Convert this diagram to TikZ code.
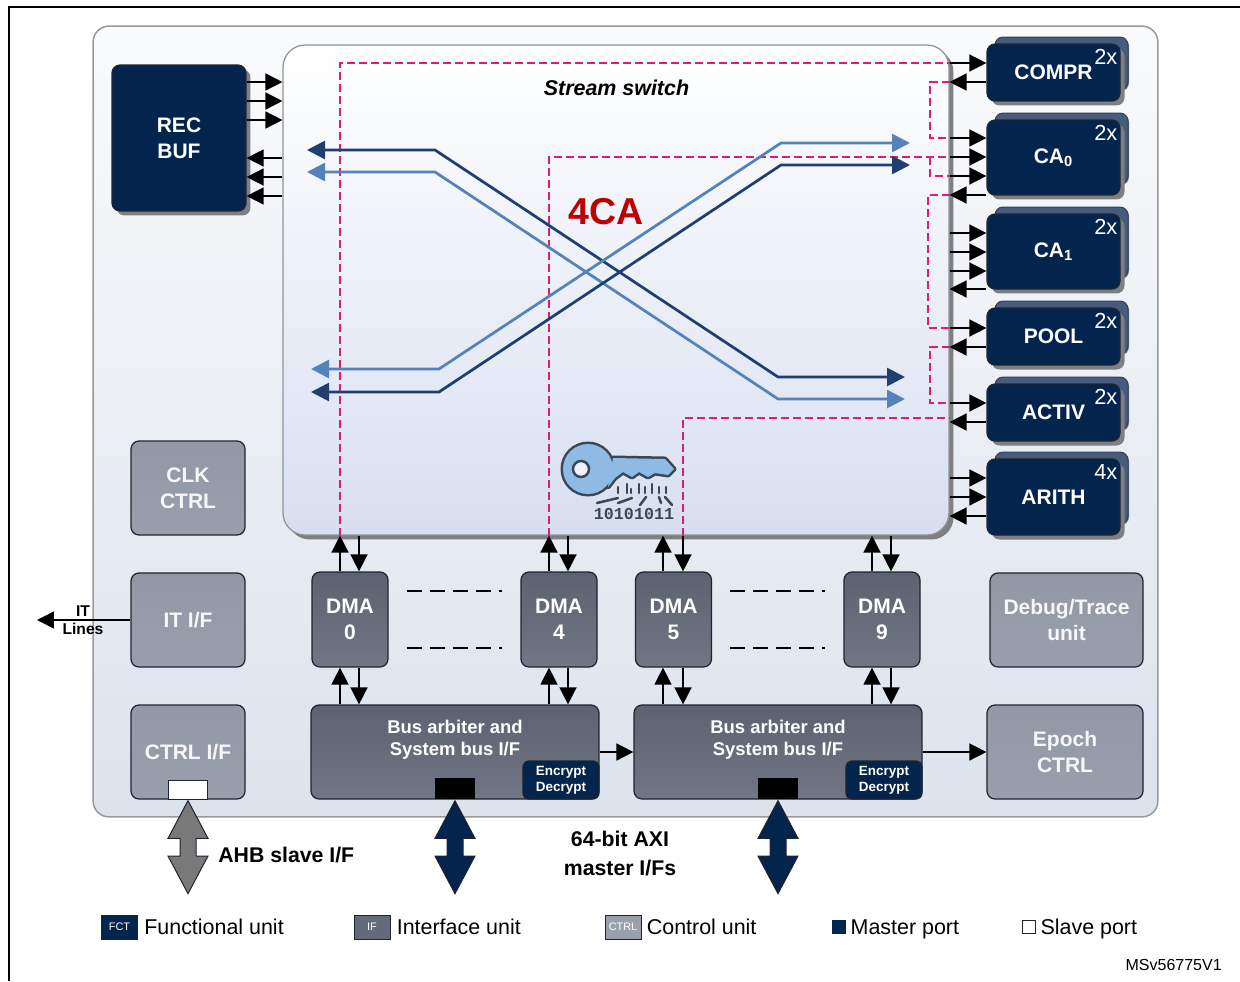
\documentclass[tikz,border=0pt]{standalone}
\usepackage{fontspec}
\setmainfont{Liberation Sans}
\newfontfamily\bitfont{Liberation Mono}
\usetikzlibrary{positioning,arrows.meta,shadows,shapes.arrows}

\definecolor{navy}{HTML}{03244D}
\definecolor{ifgray}{HTML}{656A7B}
\definecolor{ctrlgray}{HTML}{9A9FAE}
\definecolor{shadowgray}{HTML}{7D7F82}
\definecolor{backblue}{HTML}{475C7D}
\definecolor{edgedark}{HTML}{1E2430}
\definecolor{crossdark}{HTML}{1F3F70}
\definecolor{crosslight}{HTML}{5582B8}
\definecolor{pinkline}{HTML}{DD1C77}
\definecolor{keyblue}{HTML}{8DBBE6}
\definecolor{keyline}{HTML}{3B4757}
\definecolor{paneltop}{HTML}{F9FAFB}
\definecolor{panelbottom}{HTML}{DCE3ED}
\definecolor{switchbottom}{HTML}{D7DFF0}

\begin{document}
\begin{tikzpicture}[
        x=0.02cm, y=-0.02cm,
        unitbox/.style={rectangle, rounded corners=0.16cm, draw=edgedark, line width=0.025cm, inner sep=0pt, align=center, text=white, font=\fontsize{11.95}{14.8}\selectfont\bfseries},
        fctbox/.style={unitbox, fill=navy, drop shadow={shadow xshift=0.09cm, shadow yshift=-0.09cm, opacity=1, fill=shadowgray}},
        backbox/.style={rectangle, rounded corners=0.16cm, fill=backblue, draw=backblue!70!black, line width=0.02cm, minimum width=2.66cm, drop shadow={shadow xshift=0.02cm, shadow yshift=-0.02cm, opacity=1, fill=shadowgray}},
        ifbox/.style={unitbox, top color=ifgray!92!black, bottom color=ifgray!92!white},
        ctrlbox/.style={unitbox, top color=ctrlgray!95!black, bottom color=ctrlgray, text=white!92!ctrlgray},
        busbox/.style={ifbox, font=\fontsize{10.5}{12.5}\selectfont\bfseries, minimum width=5.76cm, minimum height=1.88cm},
        cryptbox/.style={unitbox, fill=navy, rounded corners=0.12cm, minimum width=1.52cm, minimum height=0.76cm, font=\fontsize{7.65}{9.1}\selectfont\bfseries},
        countlabel/.style={inner sep=0pt, text=white, font=\fontsize{12.4}{14}\selectfont},
        link/.style={-{Triangle[length=0.34cm, width=0.34cm]}, black, line width=0.03cm},
        crossarrow/.style={{Triangle[length=0.36cm, width=0.36cm]}-{Triangle[length=0.36cm, width=0.36cm]}, line width=0.055cm},
        lanepath/.style={pinkline, line width=0.05cm, dash pattern=on 0.16cm off 0.08cm},
        gapdash/.style={black, line width=0.03cm, dash pattern=on 0.3cm off 0.16cm},
        busarrow/.style={double arrow, shape border rotate=90, draw=edgedark, line width=0.02cm, inner sep=0.15cm, minimum height=1.86cm, double arrow head extend=0.24cm, double arrow tip angle=56},
        boldlabel/.style={inner sep=0pt, align=center, font=\fontsize{12.1}{16.5}\selectfont\bfseries},
        keysquare/.style={rectangle, draw=edgedark, line width=0.02cm, inner sep=0pt, minimum width=0.72cm, minimum height=0.48cm, text=white, font=\fontsize{6.2}{7}\selectfont},
        legendtext/.style={inner sep=0pt, text height=0.36cm, text depth=0.08cm, font=\fontsize{12.2}{14}\selectfont},
        keyedge/.style={keyline, line width=0.05cm, line cap=round}
    ]
    \useasboundingbox (0,0) rectangle (1240,981);

    % Page frame
    \draw[black, line width=0.05cm] (9,981) -- (9,7) -- (1240,7);

    % Outer panel and stream switch
    \node[rectangle, rounded corners=0.32cm, draw=gray!80, line width=0.03cm, top color=paneltop, bottom color=panelbottom, minimum width=21.3cm, minimum height=15.82cm] (panel) at (625.5,421.5) {};
    \node[rectangle, rounded corners=0.44cm, draw=gray!85, line width=0.025cm, top color=white, bottom color=switchbottom, minimum width=13.32cm, minimum height=9.8cm, drop shadow={shadow xshift=0.09cm, shadow yshift=-0.09cm, opacity=1, fill=shadowgray}] (switch) at (616,290) {};
    \node[inner sep=0pt, font=\fontsize{12.2}{14}\selectfont\bfseries\itshape] (switchname) at (616.5,88) {Stream switch};
    \node[inner sep=0pt, text=red!75!black, font=\fontsize{21.3}{24}\selectfont\bfseries] (fourca) at (606,212) {4CA};

    % Functional units
    \node[fctbox, minimum width=2.68cm, minimum height=2.92cm] (recbuf) at (179,138) {REC\\BUF};
    \foreach \nm/\lab/\yc/\hgt/\cnt in {compr/COMPR/72.5/1.14cm/2x, ca0/{CA\textsubscript{0}}/157.5/1.5cm/2x, ca1/{CA\textsubscript{1}}/251.5/1.5cm/2x, pool/POOL/336.5/1.14cm/2x, activ/ACTIV/412.5/1.14cm/2x, arith/ARITH/497/1.52cm/4x} {
        \node[backbox, minimum height=\hgt-0.08cm] (\nm-back) at (1061.5,\yc-9) {};
        \node[fctbox, minimum width=2.66cm, minimum height=\hgt] (\nm) at (1053.5,\yc) {\lab};
        \node[countlabel, anchor=north east] (\nm-count) at ([xshift=-0.06cm, yshift=-0.11cm]\nm.north east) {\cnt};
    }

    % DMA channels and bus interfaces
    \foreach \nm/\lab/\xc in {dma0/0/350, dma4/4/559, dma5/5/673.5, dma9/9/882} {
        \node[ifbox, minimum width=1.52cm, minimum height=1.9cm] (\nm) at (\xc,619.5) {DMA\\\lab};
    }
    \node[busbox, text depth=0.58cm] (busa) at (455,752) {Bus arbiter and\\System bus I/F};
    \node[busbox, text depth=0.58cm] (busb) at (778,752) {Bus arbiter and\\System bus I/F};
    \node[cryptbox, anchor=south east] (crypta) at (busa.south east) {Encrypt\\Decrypt};
    \node[cryptbox, anchor=south east] (cryptb) at (busb.south east) {Encrypt\\Decrypt};
    \node[rectangle, fill=black, inner sep=0pt, minimum width=0.8cm, minimum height=0.42cm, anchor=south] (porta) at (busa.south) {};
    \node[rectangle, fill=black, inner sep=0pt, minimum width=0.8cm, minimum height=0.42cm, anchor=south] (portb) at (busb.south) {};

    % Control and interface units
    \node[ctrlbox, minimum width=2.28cm, minimum height=1.88cm] (clkctrl) at (188,488) {CLK\\CTRL};
    \node[ctrlbox, minimum width=2.28cm, minimum height=1.88cm] (itif) at (188,620) {IT I/F};
    \node[ctrlbox, minimum width=2.28cm, minimum height=1.88cm] (ctrlif) at (188,752) {CTRL I/F};
    \node[ctrlbox, minimum width=3.06cm, minimum height=1.88cm] (debug) at (1066.5,620) {Debug/Trace\\unit};
    \node[ctrlbox, minimum width=3.12cm, minimum height=1.88cm] (epoch) at (1065,752) {Epoch\\CTRL};
    \node[rectangle, fill=white, draw=edgedark, line width=0.02cm, inner sep=0pt, minimum width=0.78cm, minimum height=0.38cm, anchor=south] (slaveport) at (ctrlif.south) {};

    % Lane paths through the switch (drawn before the arrows)
    \draw[lanepath] (340,0 |- switch.south) |- (switch.east |- 0,63);
    \draw[lanepath] (549,0 |- switch.south) |- (switch.east |- 0,157);
    \draw[lanepath] (683,0 |- switch.south) |- (switch.east |- 0,418);
    \draw[lanepath] (switch.east |- 0,82) -| (930,138) -- (switch.east |- 0,138);
    \draw[lanepath] (930,157) |- (switch.east |- 0,176);
    \draw[lanepath] (switch.east |- 0,195) -| (928,328) -- (switch.east |- 0,328);
    \draw[lanepath] (switch.east |- 0,347) -| (930,403) -- (switch.east |- 0,403);

    % Crossing streams
    \coordinate (darkwest) at (307,150);
    \coordinate (darkeast) at (905,377);
    \coordinate (lightwest) at (307,172);
    \coordinate (lighteast) at (905,399);
    \coordinate (backlightwest) at (311,369);
    \coordinate (backlighteast) at (910,143);
    \coordinate (backdarkwest) at (311,392);
    \coordinate (backdarkeast) at (910,165);
    \draw[crossarrow, crossdark] (darkwest) -- (435,150) -- (778,377) -- (darkeast);
    \draw[crossarrow, crosslight] (lightwest) -- (435,172) -- (778,399) -- (lighteast);
    \draw[crossarrow, crosslight] (backlightwest) -- (439,369) -- (781,143) -- (backlighteast);
    \draw[crossarrow, crossdark] (backdarkwest) -- (439,392) -- (781,165) -- (backdarkeast);

    % Key icon
    \draw[keyline, line width=0.1cm, line join=round] (613,458) -- (665,459) -- (674,469) -- (668,475) -- (655,473) -- (648,477) -- (639,472) -- (632,477) -- (623,472) -- (615,478) -- (608,487) -- cycle;
    \draw[keyline, line width=0.1cm] (588,469) circle (0.5cm);
    \fill[keyblue, line join=round] (613,458) -- (665,459) -- (674,469) -- (668,475) -- (655,473) -- (648,477) -- (639,472) -- (632,477) -- (623,472) -- (615,478) -- (608,487) -- cycle;
    \fill[keyblue] (588,469) circle (0.5cm);
    \filldraw[keyline, fill=switchbottom!40!white, line width=0.05cm] (581,469) circle (0.16cm);
    \foreach \xb/\ya in {618/487,627/484,631/489,639/484,645/487,652/484,659/487,666/487} {
        \draw[keyedge] (\xb,\ya) -- (\xb,493);
    }
    \foreach \xa/\ya/\xb/\yb in {597/503/618/498, 618/503/632/498, 640/505/646/497, 659/497/661/503, 665/497/672/505} {
        \draw[keyedge] (\xa,\ya) -- (\xb,\yb);
    }
    \node[inner sep=0pt, text=keyline, font=\fontsize{9.5}{10}\bitfont\bfseries] (bits) at (634,514) {10101011};

    % Arrows at the switch
    \foreach \y in {82,101,120} {
        \draw[link] (recbuf.east |- 0,\y) -- (switch.west |- 0,\y);
    }
    \foreach \y in {158,177,196} {
        \draw[link] (switch.west |- 0,\y) -- (recbuf.east |- 0,\y);
    }
    \foreach \nm/\y in {compr/63, ca0/138, ca0/157, ca0/176, ca1/233, ca1/252, ca1/271, pool/328, activ/403, arith/478, arith/497} {
        \draw[link] (switch.east |- 0,\y) -- (\nm.west |- 0,\y);
    }
    \foreach \nm/\y in {compr/82, ca0/195, ca1/289, pool/347, activ/422, arith/516} {
        \draw[link] (\nm.west |- 0,\y) -- (switch.east |- 0,\y);
    }
    \foreach \nm/\bus/\xu/\xd in {dma0/busa/340/359, dma4/busa/549/568, dma5/busb/663/683, dma9/busb/872/891} {
        \draw[link] (\xu,0 |- \nm.north) -- (\xu,0 |- switch.south);
        \draw[link] (\xd,0 |- switch.south) -- (\xd,0 |- \nm.north);
        \draw[link] (\xu,0 |- \bus.north) -- (\xu,0 |- \nm.south);
        \draw[link] (\xd,0 |- \nm.south) -- (\xd,0 |- \bus.north);
    }

    % Gaps between the DMA channels
    \foreach \y in {591,648} {
        \draw[gapdash] ([xshift=0.36cm]dma0.east |- 0,\y) -- ([xshift=-0.36cm]dma4.west |- 0,\y);
        \draw[gapdash] ([xshift=0.36cm]dma5.east |- 0,\y) -- ([xshift=-0.36cm]dma9.west |- 0,\y);
    }

    % Bus links
    \draw[link] (busa.east) -- (busb.west);
    \draw[link] (busb.east) -- (epoch.west);
    \coordinate (itend) at (37,620);
    \draw[link] (itif.west) -- (itend);
    \node[inner sep=0pt, align=center, font=\fontsize{8.9}{10.3}\selectfont\bfseries] (itlines) at (83,620) {IT\\Lines};

    % External ports
    \node[busarrow, fill=gray!95!black, below=0pt of slaveport] (ahbarrow) {};
    \node[busarrow, fill=navy, below=0pt of porta] (axia) {};
    \node[busarrow, fill=navy, below=0pt of portb] (axib) {};
    \node[boldlabel, anchor=west] (ahblabel) at (218,855) {AHB slave I/F};
    \node[boldlabel] (axilabel) at (620,853.5) {64-bit AXI\\master I/Fs};

    % Legend
    \node[keysquare, fill=navy] (fctkey) at (119.5,927) {FCT};
    \node[legendtext, right=0.12cm of fctkey] (fcttext) {Functional unit};
    \node[keysquare, fill=ifgray] (ifkey) at (372,927) {IF};
    \node[legendtext, right=0.12cm of ifkey] (iftext) {Interface unit};
    \node[keysquare, fill=ctrlgray] (ctrlkey) at (623,927) {CTRL};
    \node[legendtext, right=0.1cm of ctrlkey] (ctrltext) {Control unit};
    \node[rectangle, fill=navy, inner sep=0pt, minimum size=0.28cm] (masterkey) at (839,927) {};
    \node[legendtext, right=0.08cm of masterkey] (mastertext) {Master port};
    \node[rectangle, fill=white, draw=edgedark, line width=0.02cm, inner sep=0pt, minimum size=0.27cm] (slavekey) at (1029,927) {};
    \node[legendtext, right=0.08cm of slavekey] (slavetext) {Slave port};
    \node[inner sep=0pt, anchor=east, font=\fontsize{9.1}{11}\selectfont] (docref) at (1222,965) {MSv56775V1};
\end{tikzpicture}
\end{document}
